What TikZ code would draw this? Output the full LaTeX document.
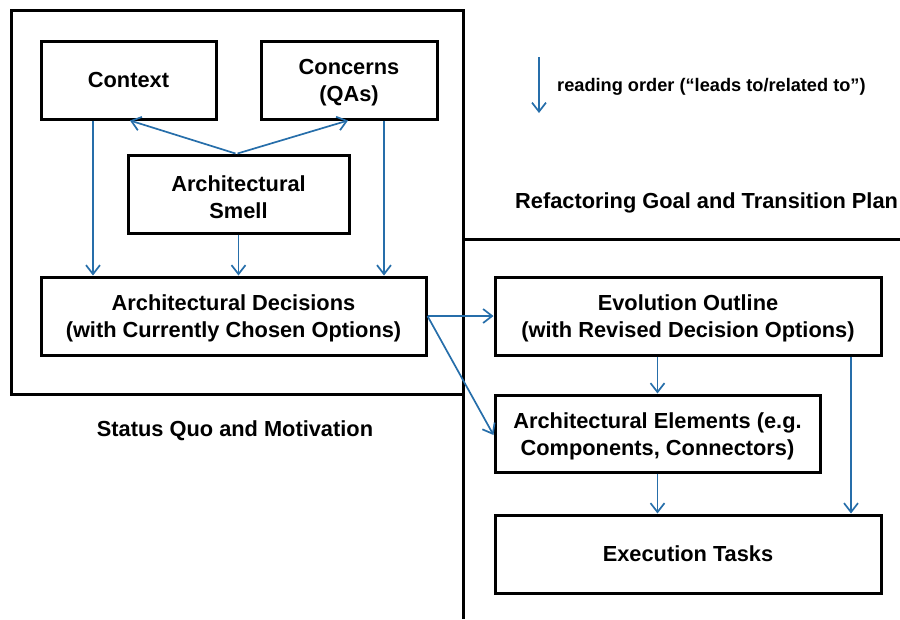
\documentclass[tikz,border=0pt]{standalone}
\usepackage{fontspec}
\setmainfont{Liberation Sans}
\usetikzlibrary{arrows.meta}
\definecolor{arrblue}{RGB}{38,110,170}
\newcommand{\toprule}{\rule{0pt}{21.5pt}}
\begin{document}
\begin{tikzpicture}[x=1pt,y=-1pt,
  box/.style={draw,line width=3pt,inner sep=0pt,align=center,
    font=\fontsize{21.8}{27}\selectfont\bfseries},
  frame/.style={line width=3pt},
  arr/.style={draw=arrblue,line width=1.7pt,-{Straight Barb[length=9pt,width=14pt,line width=1.7pt]}},
  lbl/.style={font=\fontsize{21.8}{27}\selectfont\bfseries,inner sep=0pt}]
\useasboundingbox (0,0) rectangle (900,619);
\clip (0,0) rectangle (900,619);
% frames
\draw[frame] (11,10) rectangle (463,394);
\draw[frame] (463,394) -- (463,619);
\draw[frame] (463,239) -- (900,239);
% nodes
\node[box,minimum width=175pt,minimum height=78pt] (ctx) at (128.5,80) {Context};
\node[box,minimum width=176pt,minimum height=78pt] (conc) at (349,80) {\toprule Concerns\\(QAs)};
\node[box,minimum width=221pt,minimum height=78pt] (smell) at (238.5,194) {\toprule Architectural\\Smell};
\node[box,minimum width=385pt,minimum height=78pt] (dec) at (233.5,316) {\toprule Architectural Decisions\\(with Currently Chosen Options)};
\node[box,minimum width=386pt,minimum height=78pt] (evo) at (688,316) {\toprule Evolution Outline\\(with Revised Decision Options)};
\node[box,minimum width=325pt,minimum height=77pt] (elem) at (657.5,433.5) {\toprule Architectural Elements (e.g.\\Components, Connectors)};
\node[box,minimum width=386pt,minimum height=78pt] (exec) at (688,554) {Execution Tasks};
% labels
\node[lbl] (sq) at (235,431) {Status Quo and Motivation};
\node[lbl,anchor=west] (rg) at (515,203) {Refactoring Goal and Transition Plan};
\coordinate (lgA) at (539,57);
\coordinate (lgB) at (539,113);
\node[anchor=west,inner sep=0pt,font=\fontsize{18.2}{22}\selectfont\bfseries] (lgT) at (557,87) {reading order (“leads to/related to”)};
% arrows
\draw[arr] (lgA) -- (lgB);
\draw[arr] ([xshift=-35.5pt]ctx.south) -- ([xshift=-35.5pt]ctx.south |- dec.north);
\draw[arr] (smell.south) -- (smell.south |- dec.north);
\draw[arr] ([xshift=35pt]conc.south) -- ([xshift=35pt]conc.south |- dec.north);
\draw[arr] ([xshift=-3pt]smell.north) -- ([xshift=1.5pt]ctx.south);
\draw[arr] ([xshift=-1pt]smell.north) -- ([xshift=-1pt]conc.south);
\draw[arr] (dec.east) -- (evo.west);
\draw[arr] (dec.east) -- ([yshift=-1.5pt]elem.west);
\draw[arr] (elem.north |- evo.south) -- (elem.north);
\draw[arr] (elem.south) -- (elem.south |- exec.north);
\draw[arr] ([xshift=163pt]evo.south) -- ([xshift=163pt]evo.south |- exec.north);
\end{tikzpicture}
\end{document}
